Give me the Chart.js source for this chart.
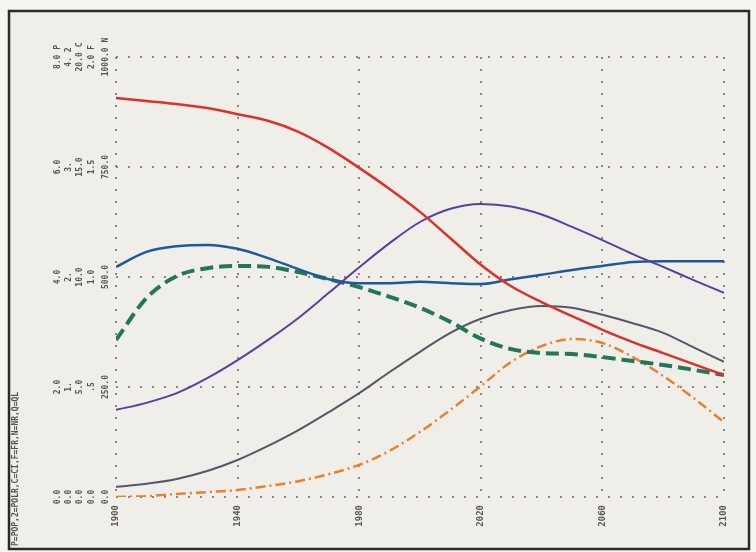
<!DOCTYPE html>
<html>
<head>
<meta charset="utf-8">
<script src="https://cdn.jsdelivr.net/npm/chart.js@4.4.1/dist/chart.umd.min.js"></script>
<style>
html,body{margin:0;padding:0;background:#f4f3ef;}
</style>
</head>
<body>
<canvas id="mainChart" width="756" height="552"></canvas>
<script>

/* DATA */

const years = [1900,1910,1920,1930,1940,1950,1960,1970,1980,1990,2000,2010,2020,2030,2040,2050,2060,2070,2080,2090,2100];

const nr   = [907,900,893,884,870,855,830,793,748,700,648,588,528,479,443,411,380,352,327,302,277];
const pop  = [198,214,236,270,311,357,407,464,522,577,625,655,666,660,642,614,584,552,523,493,464];
const ql   = [523,557,570,573,564,543,518,495,486,486,489,486,484,495,505,516,525,534,536,536,536];
const fr   = [357,452,502,520,525,523,511,495,477,455,430,398,360,336,327,325,318,309,300,289,277];
const ci   = [23,30,41,59,84,116,152,193,236,284,330,373,405,425,434,430,414,395,373,340,307];
const polr = [0,2,7,11,16,25,36,52,73,105,148,198,252,307,343,359,350,318,275,225,170];

const yearTicks = [1900,1940,1980,2020,2060,2100];
const gridValues = [0,250,500,750,1000];

/* scale columns, outermost first */
const scaleCols = [
["0.0","2.0","4.0","6.0","8.0 P"],
["0.0","1.","2.","3.","4. 2"],
["0.0","5.0","10.0","15.0","20.0 C"],
["0.0",".5","1.0","1.5","2.0 F"],
["0.0","250.0","500.0","750.0","1000.0 N"]
];

const legendText = "P=POP,2=POLR,C=CI,F=FR,N=NR,Q=QL";

/* HELPERS */

const pts = (arr) => years.map((yr,i)=>({x:yr,y:arr[i]}));

const paper = {

id:"paper",

beforeDraw(chart){

const c = chart.ctx;

c.save();
c.fillStyle="#f5f4f0";
c.fillRect(0,0,756,552);
c.fillStyle="#efeee9";
c.fillRect(9,11,740,538);
c.restore();

},

afterDraw(chart){

const c = chart.ctx;
const ys = chart.scales.y;
const colX = [58,69,80,92,106];

c.save();

/* frame */
c.strokeStyle="#2a2a2a";
c.lineWidth=2.5;
c.strokeRect(9,11,740,538);

/* rotated scale labels */
c.font="bold 8px 'DejaVu Sans Mono'";
c.fillStyle="#555";
c.textAlign="center";
c.textBaseline="middle";

scaleCols.forEach((col,i)=>{
col.forEach((txt,j)=>{
const py = ys.getPixelForValue(gridValues[j]);
c.save();
c.translate(colX[i],py);
c.rotate(-Math.PI/2);
c.fillText(txt,0,0);
c.restore();
});
});

/* key along left edge */
c.save();
c.translate(16,546);
c.rotate(-Math.PI/2);
c.textAlign="left";
c.fillText(legendText,0,0);
c.restore();

c.restore();

}

};

/* CHART */

const ctx = document.getElementById("mainChart");

const line = (label,arr,color,width,dash) => ({
label:label,
data:pts(arr),
borderColor:color,
backgroundColor:color,
borderWidth:width,
borderDash:dash,
pointRadius:0,
cubicInterpolationMode:"monotone",
fill:false
});

new Chart(ctx,{

type:"line",

data:{
datasets:[
line("NR",nr,"#d9322b",2.5,[]),
line("POP",pop,"#5a3f9c",2,[]),
line("QL",ql,"#1f5a98",2.5,[]),
line("FR",fr,"#22765a",4,[13,6]),
line("CI",ci,"#545766",2,[]),
line("POLR",polr,"#e8812f",2.5,[10,4,2,4])
]
},

options:{

responsive:false,
animation:false,

layout:{
padding:{top:57,right:32,left:0,bottom:0}
},

plugins:{
legend:{display:false},
tooltip:{enabled:false}
},

scales:{

x:{
type:"linear",
min:1900,
max:2100,
afterBuildTicks:(s)=>{ s.ticks = yearTicks.map(v=>({value:v})); },
afterFit:(s)=>{ s.height = 55; },
ticks:{
color:"#555",
font:{family:"DejaVu Sans Mono",size:9,weight:"bold"},
minRotation:90,
maxRotation:90,
padding:8,
callback:(v)=>String(v)
},
grid:{
color:"#8f8580",
lineWidth:2,
drawTicks:false
},
border:{display:false,dash:[2,10]}
},

y:{
min:0,
max:1000,
afterBuildTicks:(s)=>{ s.ticks = gridValues.map(v=>({value:v})); },
afterFit:(s)=>{ s.width = 116; },
ticks:{display:false},
grid:{
color:"#9a7f72",
lineWidth:2,
drawTicks:false
},
border:{display:false,dash:[2,10]}
}

}

},

plugins:[paper]

});

</script>
</body>
</html>
